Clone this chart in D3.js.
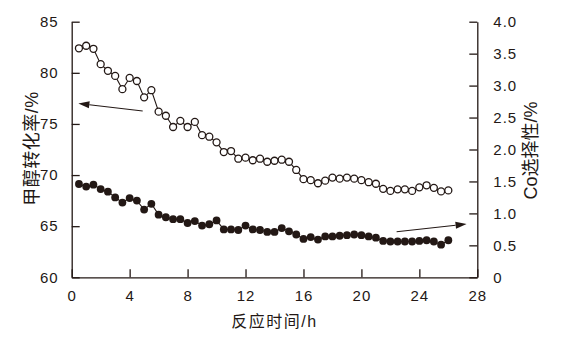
<!DOCTYPE html>
<html>
<head>
<meta charset="utf-8">
<script src="https://cdn.jsdelivr.net/npm/d3@7"></script>
<style>
  html, body { margin: 0; padding: 0; background: #fff; }
  svg { display: block; }
  .num { font-family: "Liberation Sans", Arial, sans-serif; font-size: 15px; letter-spacing: 1px; fill: #231815; }
  .title { font-family: "Liberation Sans", "Noto Sans CJK SC", sans-serif; fill: #231815; }
</style>
</head>
<body>
<svg id="chart" width="570" height="341"></svg>
<script>
// Reaction time (h)
const timeH = [0.5,1,1.5,2,2.5,3,3.5,4,4.5,5,5.5,6,6.5,7,7.5,8,8.5,9,9.5,10,
  10.5,11,11.5,12,12.5,13,13.5,14,14.5,15,15.5,16,16.5,17,17.5,18,18.5,19,19.5,20,
  20.5,21,21.5,22,22.5,23,23.5,24,24.5,25,25.5,26];

// Methanol conversion (%), left axis
const conversion = [82.4,82.65,82.35,80.85,80.2,79.7,78.4,79.5,79.2,77.6,
  78.3,76.2,75.8,74.7,75.3,74.7,75.2,73.9,73.75,73.2,
  72.25,72.35,71.6,71.7,71.45,71.6,71.3,71.4,71.5,71.3,
  70.5,69.6,69.5,69.2,69.45,69.75,69.65,69.75,69.65,69.5,
  69.3,69.15,68.65,68.45,68.6,68.6,68.45,68.8,69.0,68.75,
  68.4,68.5];

// CO selectivity (%), right axis
const selectivity = [1.46,1.42,1.45,1.38,1.34,1.25,1.17,1.24,1.2,1.06,
  1.15,0.98,0.94,0.91,0.91,0.85,0.88,0.81,0.83,0.89,
  0.75,0.75,0.74,0.81,0.75,0.74,0.71,0.71,0.77,0.72,
  0.67,0.6,0.63,0.59,0.64,0.64,0.65,0.66,0.67,0.66,
  0.64,0.62,0.57,0.56,0.56,0.56,0.56,0.57,0.58,0.56,
  0.51,0.58];

const xTicks = [0,4,8,12,16,20,24,28];
const yLeftTicks = [60,65,70,75,80,85];
const yRightTicks = [0,0.5,1.0,1.5,2.0,2.5,3.0,3.5,4.0];

const xLabel = "反应时间/h";
const yLeftLabel = "甲醇转化率/%";
const yRightLabel = "Co选择性/%";

// arrows pointing each series to its axis: [tail, tip] in data units
const leftArrow = [[4.9, 76.27], [0.46, 77.0]];
const rightArrow = [[22.43, 0.714], [27.26, 0.834]];

const ink = "#231815";
const svg = d3.select("#chart");
const L = 71.7, R = 477.3, T = 21.7, B = 277.3;

const x = d3.scaleLinear().domain([0, 28]).range([L, R]);
const yL = d3.scaleLinear().domain([60, 85]).range([B, T]);
const yR = d3.scaleLinear().domain([0, 4]).range([B, T]);

// axes
const gx = svg.append("g").attr("transform", `translate(0,${B})`)
  .call(d3.axisBottom(x).tickValues(xTicks).tickSizeInner(-8).tickSizeOuter(0).tickPadding(13));
const gl = svg.append("g").attr("transform", `translate(${L},0)`)
  .call(d3.axisLeft(yL).tickValues(yLeftTicks).tickSizeInner(-8).tickSizeOuter(0).tickPadding(13));
const gr = svg.append("g").attr("transform", `translate(${R},0)`)
  .call(d3.axisRight(yR).tickValues(yRightTicks)
    .tickFormat(d => d === 0 ? "0" : d3.format(".1f")(d))
    .tickSizeInner(-8).tickSizeOuter(0).tickPadding(16));

[gx, gl, gr].forEach(g => {
  g.select(".domain").attr("stroke", ink).attr("stroke-width", 1.3);
  g.selectAll(".tick line").attr("stroke", ink).attr("stroke-width", 1.3);
  g.selectAll(".tick text").attr("class", "num").attr("font-size", null).attr("font-family", null);
});

// series lines
const line = (yScale) => d3.line().x((d, i) => x(timeH[i])).y(d => yScale(d));
svg.append("path").datum(conversion).attr("d", line(yL))
  .attr("fill", "none").attr("stroke", ink).attr("stroke-width", 1.1);
svg.append("path").datum(selectivity).attr("d", line(yR))
  .attr("fill", "none").attr("stroke", ink).attr("stroke-width", 1.1);

// markers
svg.append("g").selectAll("circle").data(conversion).join("circle")
  .attr("cx", (d, i) => x(timeH[i])).attr("cy", d => yL(d)).attr("r", 3.5)
  .attr("fill", "#fff").attr("stroke", ink).attr("stroke-width", 1.3);
svg.append("g").selectAll("circle").data(selectivity).join("circle")
  .attr("cx", (d, i) => x(timeH[i])).attr("cy", d => yR(d)).attr("r", 3.9)
  .attr("fill", ink);

// arrows
function arrow(pts, yScale) {
  const [x0, y0] = [x(pts[0][0]), yScale(pts[0][1])];
  const [x1, y1] = [x(pts[1][0]), yScale(pts[1][1])];
  const a = Math.atan2(y1 - y0, x1 - x0);
  const len = 11, half = 3.6;
  const bx = x1 - len * Math.cos(a), by = y1 - len * Math.sin(a);
  svg.append("line").attr("x1", x0).attr("y1", y0).attr("x2", bx).attr("y2", by)
    .attr("stroke", ink).attr("stroke-width", 1.1);
  svg.append("polygon").attr("points", [
    [x1, y1],
    [bx + half * Math.sin(a), by - half * Math.cos(a)],
    [bx - half * Math.sin(a), by + half * Math.cos(a)]
  ].map(p => p.join(",")).join(" ")).attr("fill", ink);
}
arrow(leftArrow, yL);
arrow(rightArrow, yR);

// axis titles
svg.append("text").attr("class", "title").attr("x", (L + R) / 2).attr("y", 327)
  .attr("text-anchor", "middle").style("font-size", "16px").style("letter-spacing", "1.5px").text(xLabel);
svg.append("text").attr("class", "title")
  .attr("transform", `translate(38,${(T + B) / 2 - 1}) rotate(-90)`)
  .attr("text-anchor", "middle").style("font-size", "18px").style("letter-spacing", "0.5px").text(yLeftLabel);
svg.append("text").attr("class", "title")
  .attr("transform", `translate(537,${(T + B) / 2 + 1}) rotate(-90)`)
  .attr("text-anchor", "middle").style("font-size", "18px").text(yRightLabel);
</script>
</body>
</html>
